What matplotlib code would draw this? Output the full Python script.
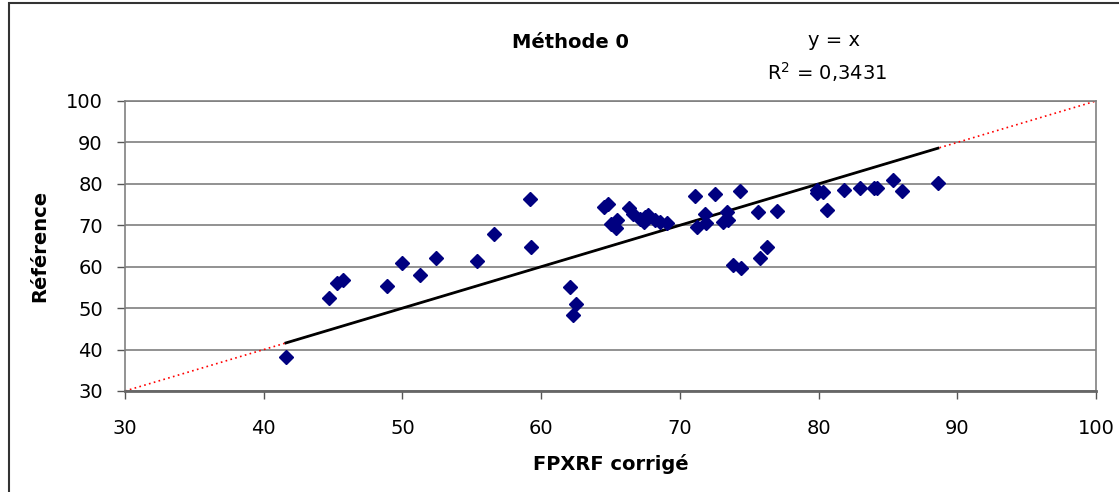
import matplotlib
matplotlib.use('Agg')

import numpy as np
import matplotlib.pyplot as plt
from matplotlib.patches import Rectangle

plt.rcParams['font.family'] = ['DejaVu Sans']

# FPXRF corrigé (x) vs Référence (y)
fpxrf = [41.6, 44.7, 45.3, 45.7, 48.9, 50.0, 51.3, 52.4, 55.4, 56.6,
         59.2, 59.3, 62.1, 62.5, 62.3, 64.5, 64.8, 65.0, 65.4, 65.5,
         66.3, 66.6, 67.1, 67.4, 67.5, 67.7, 68.2, 68.6, 69.1, 71.1,
         71.2, 71.8, 71.9, 72.5, 73.1, 73.4, 73.5, 74.3, 73.8, 74.4,
         75.6, 77.0, 75.8, 76.3, 79.9, 79.9, 80.3, 80.6, 81.8, 83.0,
         84.0, 84.2, 85.4, 86.0, 88.6]
reference = [38.3, 52.5, 56.0, 56.9, 55.4, 61.0, 58.0, 62.1, 61.5, 68.0,
             76.3, 64.7, 55.2, 51.1, 48.3, 74.4, 75.1, 70.3, 69.3, 71.3,
             74.2, 72.7, 71.4, 70.9, 72.1, 72.5, 71.2, 70.8, 70.5, 77.1,
             69.6, 72.8, 70.6, 77.5, 70.8, 73.3, 71.2, 78.2, 60.3, 59.8,
             73.1, 73.5, 62.0, 64.7, 78.6, 77.7, 78.1, 73.7, 78.4, 78.9,
             78.9, 78.9, 80.9, 78.3, 80.1]

x_ticks = [30, 40, 50, 60, 70, 80, 90, 100]
y_ticks = [30, 40, 50, 60, 70, 80, 90, 100]

fig = plt.figure(figsize=(11.19, 4.92), dpi=100)
ax = fig.add_axes([125 / 1119, 1 - 391 / 492, 971 / 1119, 290 / 492])

# figure frame (top and left edges visible)
fig.patches.append(Rectangle((8.5 / 1119, -0.05), 1.2, 1.05 - 3 / 492,
                             transform=fig.transFigure, fill=False,
                             edgecolor='#333333', lw=1.5))

ax.set_xlim(30, 100)
ax.set_ylim(30, 100)
ax.set_xticks(x_ticks)
ax.set_yticks(y_ticks)
ax.tick_params(labelsize=14, length=6, width=1, color='#555555')
ax.tick_params(axis='x', pad=14)
ax.tick_params(axis='y', pad=10)
ax.yaxis.grid(True, color='#7f7f7f', lw=1.2)
ax.set_axisbelow(True)
for s in ['top', 'right', 'left']:
    ax.spines[s].set_color('#808080')
    ax.spines[s].set_linewidth(1.2)
ax.spines['bottom'].set_color('#666666')
ax.spines['bottom'].set_linewidth(2)

# y = x trend line extended over the full range (red dotted)
ax.plot([30, 100], [30, 100], color='red', lw=1.2, ls=(0, (1, 2)), zorder=2)
# y = x over the data range (black)
xmin, xmax = min(fpxrf), max(fpxrf)
ax.plot([xmin, xmax], [xmin, xmax], color='black', lw=2, zorder=3)

ax.plot(fpxrf, reference, 'D', color='#000080', ms=6.8, zorder=4)

ax.set_xlabel('FPXRF corrigé', fontsize=14, fontweight='bold', labelpad=12)
ax.set_ylabel('Référence', fontsize=14, fontweight='bold', labelpad=12)

fig.text(570 / 1119, 1 - 42 / 492, 'Méthode 0', fontsize=14, fontweight='bold',
         ha='center', va='center')
fig.text(834 / 1119, 1 - 40 / 492, 'y = x', fontsize=14, ha='center', va='center')
fig.text(827 / 1119, 1 - 72 / 492, 'R$^2$ = 0,3431', fontsize=14, ha='center',
         va='center')

fig.savefig('out.png', dpi=100)
